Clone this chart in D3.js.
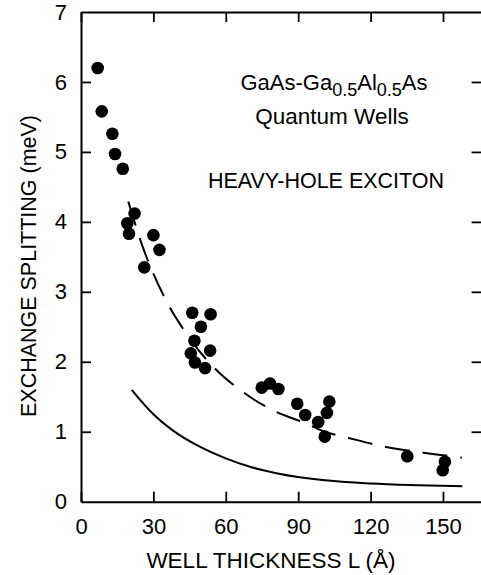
<!DOCTYPE html>
<html>
<head>
<meta charset="utf-8">
<script src="https://cdn.jsdelivr.net/npm/d3@7"></script>
<style>
  body { margin: 0; background: #fff; }
  svg { display: block; font-family: "Liberation Sans", Arial, sans-serif; }
</style>
</head>
<body>
<svg width="481" height="575"></svg>
<script>
// measured points (well thickness in A, splitting in meV)
var wellL = [6.9, 8.6, 13.0, 14.1, 17.3, 22.2, 19.2, 19.9, 30.0, 32.5, 26.2,
  46.1, 53.7, 49.7, 47.0, 53.5, 45.5, 47.2, 51.4,
  74.9, 78.3, 81.8, 89.6, 92.9, 102.9, 101.9, 98.3, 101.0,
  135.2, 150.8, 149.9];
var splitting = [6.2, 5.58, 5.26, 4.97, 4.76, 4.12, 3.98, 3.83, 3.81, 3.60, 3.35,
  2.70, 2.68, 2.50, 2.30, 2.16, 2.12, 1.99, 1.91,
  1.63, 1.69, 1.61, 1.40, 1.24, 1.43, 1.27, 1.14, 0.93,
  0.65, 0.57, 0.45];

// dashed curve
var dashL = [19.6, 25.1, 35.5, 43.5, 58.3, 65.9, 72.1, 80, 94.6, 101, 110, 125.3, 141.9, 157.8];
var dashE = [4.29, 3.69, 2.86, 2.41, 1.81, 1.60, 1.45, 1.30, 1.10, 1.00, 0.92, 0.79, 0.70, 0.63];

// solid curve
var solidL = [21, 30, 38, 49, 60, 70, 82, 100, 120, 140, 158];
var solidE = [1.60, 1.25, 1.02, 0.79, 0.62, 0.50, 0.40, 0.31, 0.26, 0.235, 0.22];

var xTicks = [0, 30, 60, 90, 120, 150];
var yTicks = [0, 1, 2, 3, 4, 5, 6, 7];

var svg = d3.select('svg');

var x = d3.scaleLinear().domain([0, 166]).range([81, 481.6]);
var y = d3.scaleLinear().domain([0, 7]).range([501.7, 12]);

var tickLen = 10;
var font = '"Liberation Sans", Arial, sans-serif';

//////////// FRAME + TICKS ////////////

// bottom axis with labels
svg.append('g')
  .attr('transform', 'translate(0,' + y(0) + ')')
  .call(d3.axisBottom(x).tickValues(xTicks).tickFormat(d3.format('d'))
    .tickSizeInner(-tickLen).tickSizeOuter(0).tickPadding(17))
  .call(function (g) {
    g.select('.domain').attr('stroke-width', 2);
    g.selectAll('.tick line').attr('stroke-width', 1.8);
    g.selectAll('text').attr('font-size', 22).attr('fill', '#000').attr('font-family', font);
  });

// top axis, ticks only
svg.append('g')
  .attr('transform', 'translate(0,' + y(7) + ')')
  .call(d3.axisTop(x).tickValues(xTicks).tickSizeInner(-tickLen).tickSizeOuter(0).tickFormat(''))
  .call(function (g) {
    g.select('.domain').attr('stroke-width', 2);
    g.selectAll('.tick line').attr('stroke-width', 1.8);
  });

// left axis with labels
svg.append('g')
  .attr('transform', 'translate(' + x(0) + ',0)')
  .call(d3.axisLeft(y).tickValues(yTicks).tickFormat(d3.format('d'))
    .tickSizeInner(-tickLen).tickSizeOuter(0).tickPadding(14))
  .call(function (g) {
    g.select('.domain').attr('stroke-width', 2);
    g.selectAll('.tick line').attr('stroke-width', 1.8);
    g.selectAll('.tick').filter(function (d) { return d === 0 || d === 7; }).select('line').remove();
    g.selectAll('text').attr('font-size', 22).attr('fill', '#000').attr('font-family', font);
  });

// right axis, ticks only (mostly off the page)
svg.append('g')
  .attr('transform', 'translate(' + x(166) + ',0)')
  .call(d3.axisRight(y).tickValues([1, 2, 3, 4, 5, 6]).tickSizeInner(-tickLen).tickSizeOuter(0).tickFormat(''))
  .call(function (g) {
    g.select('.domain').attr('stroke-width', 2);
    g.selectAll('.tick line').attr('stroke-width', 1.8);
  });

//////////// CURVES ////////////

var line = d3.line()
  .x(function (d) { return x(d[0]); })
  .y(function (d) { return y(d[1]); })
  .curve(d3.curveMonotoneX);

svg.append('path')
  .datum(d3.zip(dashL, dashE))
  .attr('d', line)
  .attr('fill', 'none')
  .attr('stroke', '#000')
  .attr('stroke-width', 2)
  .attr('stroke-dasharray', '25,13');

svg.append('path')
  .datum(d3.zip(solidL, solidE))
  .attr('d', line)
  .attr('fill', 'none')
  .attr('stroke', '#000')
  .attr('stroke-width', 2);

//////////// POINTS ////////////

svg.append('g')
  .selectAll('circle')
  .data(d3.zip(wellL, splitting))
  .enter()
  .append('circle')
  .attr('cx', function (d) { return x(d[0]); })
  .attr('cy', function (d) { return y(d[1]); })
  .attr('r', 6.3)
  .attr('fill', '#000');

//////////// TEXT ////////////

var t1 = svg.append('text')
  .attr('x', 334)
  .attr('y', 90)
  .attr('text-anchor', 'middle')
  .attr('font-size', 22);
t1.append('tspan').text('GaAs-Ga');
t1.append('tspan').attr('dy', 6).attr('font-size', 18).text('0.5');
t1.append('tspan').attr('dy', -6).text('Al');
t1.append('tspan').attr('dy', 6).attr('font-size', 18).text('0.5');
t1.append('tspan').attr('dy', -6).text('As');

svg.append('text')
  .attr('x', 332)
  .attr('y', 124)
  .attr('text-anchor', 'middle')
  .attr('font-size', 22.5)
  .text('Quantum Wells');

svg.append('text')
  .attr('x', 326)
  .attr('y', 188)
  .attr('text-anchor', 'middle')
  .attr('font-size', 21.5)
  .text('HEAVY-HOLE EXCITON');

// the original y title is tall but narrow, so squeeze it to its length
svg.append('text')
  .attr('transform', 'translate(36,266) rotate(-90)')
  .attr('text-anchor', 'middle')
  .attr('font-size', 22.5)
  .attr('textLength', 302)
  .attr('lengthAdjust', 'spacingAndGlyphs')
  .text('EXCHANGE SPLITTING (meV)');

svg.append('text')
  .attr('x', 271)
  .attr('y', 568)
  .attr('text-anchor', 'middle')
  .attr('font-size', 22.5)
  .text('WELL THICKNESS L (Å)');
</script>
</body>
</html>
